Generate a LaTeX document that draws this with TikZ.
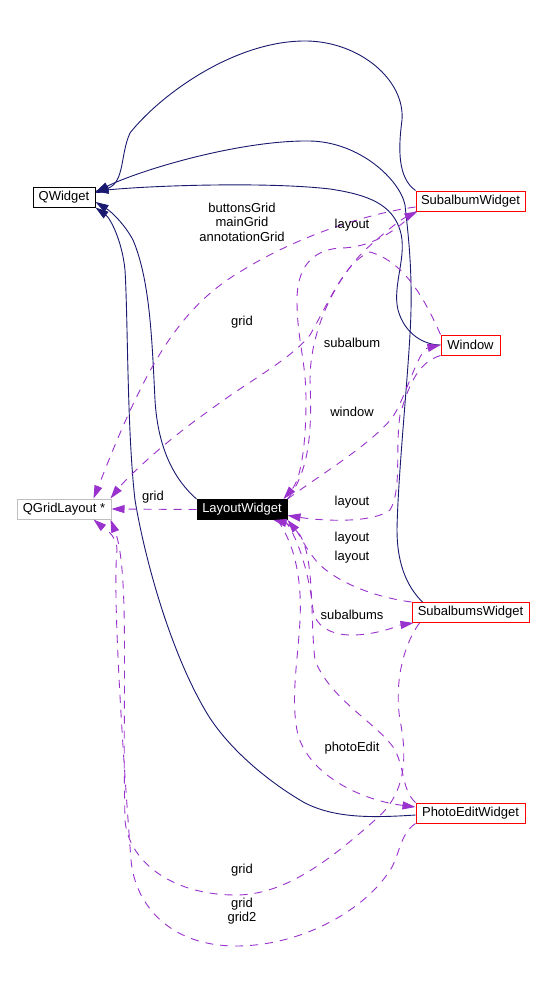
\documentclass[tikz,border=0pt]{standalone}
\usepackage{fontspec}
\setmainfont{Liberation Sans}
\usetikzlibrary{arrows.meta}
\definecolor{navy}{RGB}{25,25,112}
\definecolor{purp}{RGB}{154,50,205}
\definecolor{gry}{RGB}{191,191,191}
\begin{document}
\begin{tikzpicture}[x=1pt,y=-1pt,
  every node/.style={font=\fontsize{13}{14.5}\selectfont, inner sep=0pt},
  box/.style={draw, line width=1pt, minimum height=20pt, align=center},
  inh/.style={draw=navy, line width=0.9pt, -{Triangle[length=13pt,width=8pt]}},
  use/.style={draw=purp, line width=0.9pt, dash pattern=on 8pt off 7pt, -{Triangle[length=13pt,width=8pt]}},
  lbl/.style={align=center, text=black}]
\fill[white] (0,0) rectangle (545,1006);
\useasboundingbox (0,0) rectangle (545,1006);

% nodes
\node[box, draw=black, minimum width=62pt] (qw) at (64,197) {QWidget};
\node[box, draw=red, minimum width=109pt] (sw) at (470.5,201) {SubalbumWidget};
\node[box, draw=red, minimum width=59pt] (win) at (470.5,345) {Window};
\node[box, draw=gry, minimum width=94pt] (qgl) at (64,509) {QGridLayout *};
\node[box, draw=black, fill=black, text=white, minimum width=90pt] (lw) at (242,509.5) {LayoutWidget};
\node[box, draw=red, minimum width=117pt] (sbs) at (470.5,612.5) {SubalbumsWidget};
\node[box, draw=red, minimum width=109pt] (pe) at (470.5,813) {PhotoEditWidget};

% inheritance (navy)
\draw[inh] (sw.north west) .. controls (398,178) and (398,150) .. (402,120)
  .. controls (405,80) and (360,42) .. (307,41)
  .. controls (235,40) and (160,95) .. (130,133)
  .. controls (120,155) and (125,182) .. ([yshift=4pt]qw.east);
\draw[inh] ([xshift=11pt]sbs.north west) .. controls (405,585) and (397,560) .. (397,530)
  .. controls (398,470) and (410,360) .. (411,310)
  .. controls (412,260) and (407,225) .. (405,205)
  .. controls (400,180) and (360,142) .. (310,141)
  .. controls (240,140) and (140,170) .. ([yshift=5pt]qw.east);
\draw[inh] (win.west) .. controls (425,345) and (405,335) .. (398,310)
  .. controls (392,285) and (408,255) .. (400,230)
  .. controls (392,205) and (370,195) .. (330,189)
  .. controls (270,182) and (160,185) .. ([yshift=6pt]qw.east);
\draw[inh] (lw.north west) .. controls (175,480) and (158,450) .. (155,400)
  .. controls (152,340) and (150,280) .. (133,240)
  .. controls (125,225) and (112,212) .. ([yshift=-5pt]qw.east);
\draw[inh] ([yshift=-2pt]pe.west) .. controls (370,818) and (335,818) .. (305,803)
  .. controls (265,780) and (225,745) .. (205,710)
  .. controls (170,650) and (145,560) .. (135,500)
  .. controls (127,430) and (128,320) .. (125,270)
  .. controls (122,240) and (110,218) .. (qw.south east);

% usage (purple dashed)
\draw[use] (lw.west) -- (qgl.east);
\draw[use] ([yshift=-6pt]sw.west) .. controls (370,213) and (300,235) .. (243,270)
  .. controls (200,295) and (170,330) .. (140,390)
  .. controls (120,430) and (105,470) .. ([xshift=-18pt]qgl.north east);
\draw[use] (win.north west) .. controls (425,300) and (405,262) .. (370,252)
  .. controls (345,262) and (330,300) .. (310,335)
  .. controls (290,360) and (250,380) .. (210,410)
  .. controls (160,445) and (125,480) .. ([xshift=-1pt]qgl.north east);
\draw[use] (sw.south west) .. controls (395,232) and (370,248) .. (340,248)
  .. controls (310,250) and (297,270) .. (297,300)
  .. controls (297,340) and (306,360) .. (306,400)
  .. controls (306,450) and (300,480) .. ([xshift=-4pt]lw.north east);
\draw[use] (lw.north east) .. controls (310,470) and (312,430) .. (310,380)
  .. controls (310,330) and (335,280) .. (365,250)
  .. controls (385,232) and (400,220) .. ([xshift=2pt]sw.south west);
\draw[use] (lw.north east) .. controls (320,475) and (370,445) .. (392,418)
  .. controls (405,400) and (418,350) .. (win.west);
\draw[use] (win.south west) .. controls (420,362) and (410,380) .. (400,415)
  .. controls (395,450) and (402,490) .. (390,510)
  .. controls (375,522) and (330,522) .. ([yshift=-6pt]lw.east);
\draw[use] (sbs.north west) .. controls (380,598) and (340,585) .. (318,563)
  .. controls (305,548) and (300,535) .. (lw.south east);
\draw[use] (pe.north west) .. controls (402,790) and (405,770) .. (395,750)
  .. controls (380,725) and (330,700) .. (315,660)
  .. controls (310,620) and (315,560) .. (300,535)
  .. controls (292,525) and (282,522) .. ([xshift=-14pt]lw.south east);
\draw[use] ([xshift=-3pt]lw.south east) .. controls (300,540) and (310,580) .. (313,610)
  .. controls (315,625) and (330,636) .. (355,635)
  .. controls (380,634) and (400,625) .. ([xshift=2pt]sbs.south west);
\draw[use] ([xshift=-10pt]lw.south east) .. controls (295,545) and (302,580) .. (300,620)
  .. controls (298,660) and (290,700) .. (298,735)
  .. controls (310,775) and (360,800) .. ([yshift=6pt]pe.west);
\draw[use] ([xshift=8pt]sbs.south west) .. controls (400,650) and (395,690) .. (400,720)
  .. controls (408,760) and (405,795) .. (375,820)
  .. controls (330,860) and (285,895) .. (236,895)
  .. controls (170,895) and (128,860) .. (125,820)
  .. controls (122,700) and (130,570) .. ([xshift=-1pt]qgl.south east);
\draw[use] (pe.south west) .. controls (398,835) and (400,860) .. (386,876)
  .. controls (360,912) and (300,946) .. (236,946)
  .. controls (170,946) and (135,905) .. (131,860)
  .. controls (125,780) and (112,600) .. (117,550)
  .. controls (118,535) and (100,525) .. ([xshift=-18pt]qgl.south east);

% labels
\node[lbl] (l0) at (153,497) {grid};
\node[lbl] (l1) at (242,222) {buttonsGrid\\mainGrid\\annotationGrid};
\node[lbl] (l2) at (352,225) {layout};
\node[lbl] (l3) at (242,322) {grid};
\node[lbl] (l4) at (352,343) {subalbum};
\node[lbl] (l5) at (352,412) {window};
\node[lbl] (l6) at (352,502) {layout};
\node[lbl] (l7) at (352,538) {layout};
\node[lbl] (l8) at (352,557) {layout};
\node[lbl] (l9) at (352,615) {subalbums};
\node[lbl] (l10) at (352,748) {photoEdit};
\node[lbl] (l11) at (242,870) {grid};
\node[lbl] (l12) at (242,911) {grid\\grid2};
\end{tikzpicture}
\end{document}
